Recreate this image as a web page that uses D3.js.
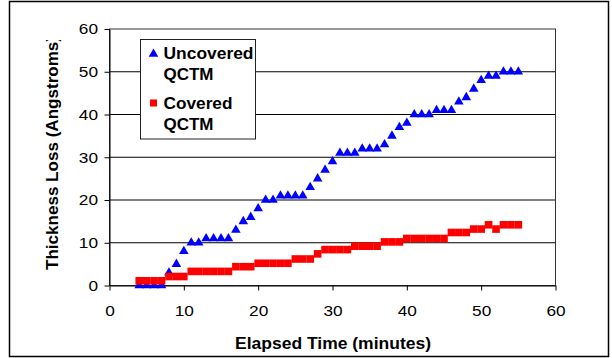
<!DOCTYPE html>
<html>
<meta charset="utf-8">
<style>
  body { margin: 0; background: #fff; }
  text { font-family: "Liberation Sans", Arial, sans-serif; fill: #000; }
  .tick text { font-size: 15px; }
  .tick line { stroke: #000; }
  .domain { stroke: #000; }
  .title { font-size: 16px; font-weight: bold; }
</style>
<body>
  <script src="https://d3js.org/d3.v7.min.js"></script>
  <script>
    // elapsed minutes for each reading
    const minutes = [4, 5, 6, 7, 8, 9, 10, 11, 12, 13, 14, 15, 16, 17, 18, 19, 20, 21, 22, 23, 24, 25, 26, 27, 28, 29,
      30, 31, 32, 33, 34, 35, 36, 37, 38, 39, 40, 41, 42, 43, 44, 45, 46, 47, 48, 49, 50, 51, 52, 53, 54, 55];

    // thickness loss in angstroms
    const uncovered = [0, 0, 0, 0, 3, 5, 8, 10, 10, 11, 11, 11, 11, 13, 15, 16, 18, 20, 20, 21, 21, 21, 21, 23, 25, 27,
      29, 31, 31, 31, 32, 32, 32, 33, 35, 37, 38, 40, 40, 40, 41, 41, 41, 43, 44, 46, 48, 49, 49, 50, 50, 50];
    const covered = [1.1, 1.1, 1.1, 1.1, 2.1, 2.1, 2.1, 3.3, 3.3, 3.3, 3.3, 3.3, 3.3, 4.4, 4.4, 4.4, 5.2, 5.2, 5.2, 5.2,
      5.2, 6.2, 6.2, 6.2, 7.4, 8.4, 8.4, 8.4, 8.4, 9.2, 9.2, 9.2, 9.2, 10.2, 10.2, 10.2, 11, 11, 11, 11, 11, 11,
      12.4, 12.4, 12.4, 13.2, 13.2, 14.2, 13.2, 14.2, 14.2, 14.2];

    const ticks = [0, 10, 20, 30, 40, 50, 60];
    const legendLines = [["Uncovered", "QCTM"], ["Covered", "QCTM"]];

    let width = 612,
      height = 358;

    let plotLeft = 109.5, plotRight = 555.5, plotTop = 29, plotBottom = 285.5;

    let x = d3.scaleLinear().domain([0, 60]).range([plotLeft, plotRight]);
    let y = d3.scaleLinear().domain([0, 60]).range([plotBottom, plotTop]);

    let svg = d3.select("body").append("svg")
      .attr("width", width)
      .attr("height", height);

    // outer frame
    svg.append("rect")
      .attr("x", 9.5).attr("y", 1.5)
      .attr("width", 599).attr("height", 355)
      .attr("fill", "#fff")
      .attr("stroke", "#000")
      .attr("stroke-width", 1.5);

    // gridlines
    svg.selectAll(".grid")
      .data(ticks.filter(d => d > 0 && d < 60))
      .enter().append("line")
      .attr("class", "grid")
      .attr("x1", plotLeft).attr("x2", plotRight)
      .attr("y1", d => y(d)).attr("y2", d => y(d))
      .attr("stroke", "#000");

    // plot area border
    svg.append("rect")
      .attr("x", plotLeft).attr("y", plotTop)
      .attr("width", plotRight - plotLeft).attr("height", plotBottom - plotTop)
      .attr("fill", "none")
      .attr("stroke", "#333");

    let digitWidth = 9.6;

    let yAxis = svg.append("g")
      .attr("transform", `translate(${plotLeft},0)`)
      .call(d3.axisLeft(y).tickValues(ticks).tickSize(5).tickSizeOuter(0).tickPadding(6.5));
    yAxis.selectAll("text")
      .attr("textLength", d => String(d).length * digitWidth)
      .attr("lengthAdjust", "spacingAndGlyphs");

    let xAxis = svg.append("g")
      .attr("transform", `translate(0,${plotBottom})`)
      .call(d3.axisBottom(x).tickValues(ticks).tickSize(5).tickSizeOuter(0).tickPadding(15));
    xAxis.selectAll("text")
      .attr("textLength", d => String(d).length * digitWidth)
      .attr("lengthAdjust", "spacingAndGlyphs");

    // series: uncovered first, covered drawn on top
    let tri = d3.symbol().type(d3.symbolTriangle).size(40);
    let sq = d3.symbol().type(d3.symbolSquare).size(58);

    svg.selectAll(".uncovered")
      .data(minutes)
      .enter().append("path")
      .attr("class", "uncovered")
      .attr("d", tri)
      .attr("fill", "#0000ff")
      .attr("transform", (d, i) => `translate(${x(d)},${y(uncovered[i])})`);

    svg.selectAll(".covered")
      .data(minutes)
      .enter().append("path")
      .attr("class", "covered")
      .attr("d", sq)
      .attr("fill", "#ff0000")
      .attr("transform", (d, i) => `translate(${x(d)},${y(covered[i])})`);

    // legend
    let legend = svg.append("g");
    legend.append("rect")
      .attr("x", 140.5).attr("y", 39.5)
      .attr("width", 115).attr("height", 99.5)
      .attr("fill", "#fff")
      .attr("stroke", "#222");

    legend.append("path")
      .attr("d", d3.symbol().type(d3.symbolTriangle).size(40))
      .attr("fill", "#0000ff")
      .attr("transform", "translate(153.5,54)");
    legend.append("path")
      .attr("d", d3.symbol().type(d3.symbolSquare).size(50))
      .attr("fill", "#ff0000")
      .attr("transform", "translate(153.5,103)");

    let lineLengths = { "Uncovered": 90, "QCTM": 50, "Covered": 69 };
    let baselines = [[58.5, 80], [108.5, 130]];
    legendLines.forEach((lines, i) => {
      lines.forEach((t, j) => {
        legend.append("text")
          .attr("class", "title")
          .attr("x", 163.5)
          .attr("y", baselines[i][j])
          .attr("textLength", lineLengths[t])
          .attr("lengthAdjust", "spacingAndGlyphs")
          .text(t);
      });
    });

    // axis titles
    svg.append("text")
      .attr("class", "title")
      .attr("x", 333)
      .attr("y", 349)
      .attr("text-anchor", "middle")
      .attr("textLength", 196)
      .attr("lengthAdjust", "spacingAndGlyphs")
      .text("Elapsed Time (minutes)");

    // the y title is clipped at the top, as in the original
    svg.append("clipPath").attr("id", "ytclip")
      .append("rect").attr("x", 0).attr("y", 40).attr("width", 100).attr("height", 300);
    svg.append("g").attr("clip-path", "url(#ytclip)")
      .append("text")
      .attr("class", "title")
      .attr("transform", "translate(58,270) rotate(-90)")
      .attr("x", 0).attr("y", 0)
      .attr("textLength", 234)
      .attr("lengthAdjust", "spacingAndGlyphs")
      .text("Thickness Loss (Angstroms)");
  </script>
</body>
</html>
